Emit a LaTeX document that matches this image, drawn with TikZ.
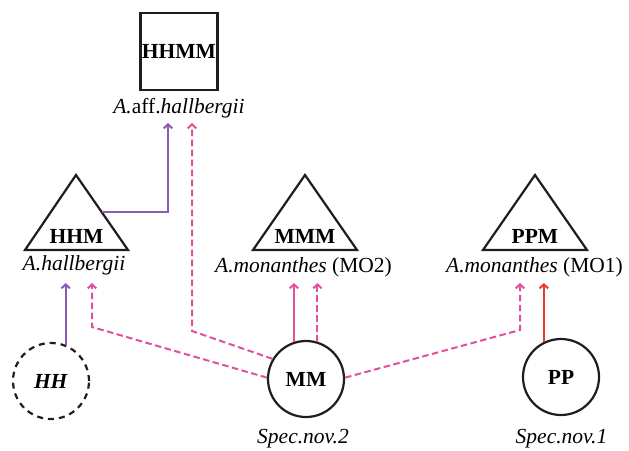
\documentclass[tikz,border=0pt]{standalone}
\usepackage{fontspec}
\setmainfont{Liberation Serif}
\usetikzlibrary{arrows.meta,calc}
\definecolor{purp}{HTML}{8B5AB5}
\definecolor{pinkc}{HTML}{E0509C}
\definecolor{redc}{HTML}{E8392C}
\definecolor{inkc}{HTML}{1E1E1E}
\tikzset{
  shapeline/.style={line width=2.2pt, draw=inkc, line join=miter},
  circ/.style={circle, draw=inkc, line width=2.2pt, minimum size=76pt, inner sep=0pt, font=\bfseries},
  sq/.style={draw=inkc, line width=2.2pt, minimum size=77pt, inner sep=0pt, font=\bfseries},
  tritext/.style={inner sep=0pt, font=\bfseries},
  conn/.style={line width=2pt, -{Straight Barb[length=4pt,width=8.5pt]}},
  dsh/.style={dash pattern=on 6.5pt off 3.5pt},
  lab/.style={anchor=base, inner sep=0pt, font=\itshape},
}
\begin{document}
\begin{tikzpicture}[x=1pt,y=-1pt]
\useasboundingbox (0,0) rectangle (629,450);
\fontsize{21.5}{25}\selectfont
% nodes
\node[sq] (HHMM) at (179,51.5) {HHMM};
\node[lab] (LHHMM) at (179,113) {A.\textup{aff.}hallbergii};

\draw[shapeline] (76,175) -- (128,250) -- (25,250) -- cycle;
\node[tritext] (HHM) at (76.5,236) {HHM};
\node[lab] (LHHM) at (74,270) {A.hallbergii};

\draw[shapeline] (305,175) -- (357,250) -- (253,250) -- cycle;
\node[tritext] (MMM) at (305,236) {MMM};
\node[lab] (LMMM) at (303.5,272) {A.monanthes \textup{(MO2)}};

\draw[shapeline] (535,175) -- (587,250) -- (483,250) -- cycle;
\node[tritext] (PPM) at (535,236) {PPM};
\node[lab] (LPPM) at (534.5,272) {A.monanthes \textup{(MO1)}};

\node[circ, dash pattern=on 6pt off 5pt] (HH) at (51,381) {\textit{HH}};
\node[circ] (MM) at (306,379) {MM};
\node[circ] (PP) at (561,377) {PP};
\node[lab] (LMM) at (303,443) {Spec.nov.2};
\node[lab] (LPP) at (561.5,443) {Spec.nov.1};

% helper coordinates
\coordinate (lowtips) at (0,283);
\coordinate (toptips) at (0,123);
\coordinate (hhmedge) at (101.6,212);
\coordinate (bendA) at (192,331);
\coordinate (bendB) at (92,327);
\coordinate (bendC) at (520,330);
\coordinate (purpx) at (168,0);

% connectors
\draw[conn, purp] (HH.68) -- (HH.68 |- lowtips);
\draw[conn, purp] (hhmedge) -| (purpx |- toptips);
\draw[conn, pinkc, dsh] (MM.149) -- (bendA) -- (bendA |- toptips);
\draw[conn, pinkc, dsh] (MM.178) -- (bendB) -- (bendB |- lowtips);
\draw[conn, pinkc] (MM.108) -- (MM.108 |- lowtips);
\draw[conn, pinkc, dsh] (MM.73) -- (MM.73 |- lowtips);
\draw[conn, pinkc, dsh] (MM.2) -- (bendC) -- (bendC |- lowtips);
\draw[conn, redc] (PP.116) -- (PP.116 |- lowtips);
\end{tikzpicture}
\end{document}
